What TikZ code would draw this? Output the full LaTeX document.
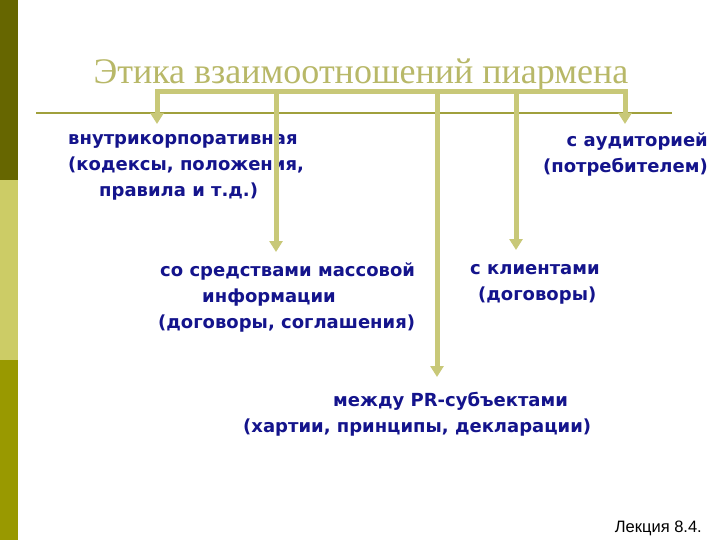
\documentclass[tikz,border=0pt]{standalone}
\usepackage{fontspec}
\setmainfont{Liberation Serif}
\newfontfamily\bodyfont{DejaVu Sans}
\newfontfamily\notefont{Liberation Sans}
\usetikzlibrary{arrows.meta}
\definecolor{barA}{RGB}{102,102,0}
\definecolor{barB}{RGB}{204,204,102}
\definecolor{barC}{RGB}{153,153,0}
\definecolor{titlecol}{RGB}{184,184,104}
\definecolor{legcol}{RGB}{200,200,120}
\definecolor{rulecol}{RGB}{160,160,60}
\definecolor{txtcol}{RGB}{20,20,140}
\tikzset{
  bodytext/.style={inner sep=0pt, text=txtcol, font=\bodyfont\bfseries\fontsize{18}{26}\selectfont},
  legarrow/.style={draw=legcol, line width=5pt, -{Triangle[width=13pt,length=11pt]}},
  bar/.style={draw=legcol, line width=5pt, line cap=rect}
}
\begin{document}
\begin{tikzpicture}[x=1pt,y=-1pt]
\useasboundingbox (0,0) rectangle (720,540);
\fill[white] (0,0) rectangle (720,540);
% left bar
\fill[barA] (0,0) rectangle (18,180);
\fill[barB] (0,180) rectangle (18,360);
\fill[barC] (0,360) rectangle (18,540);
% title
\node[inner sep=0pt, text=titlecol, font=\fontsize{36}{40}\selectfont, anchor=base] (title) at (361,84) {Этика взаимоотношений пиармена};
% rule
\coordinate (ruleL) at (36,113);
\coordinate (ruleR) at (672,113);
\draw[rulecol, line width=2pt] (ruleL) -- (ruleR);
% text blocks
\node[bodytext, align=left, anchor=west] (inner) at (68,167) {внутрикорпоративная\\(кодексы, положения,\\\hspace*{31pt}правила и т.д.)};
\node[bodytext, align=right, anchor=east] (aud) at (708,154) {с аудиторией\\(потребителем)};
\node[bodytext, align=left, anchor=west] (smi) at (158,297) {\hspace*{2pt}со средствами массовой\\\hspace*{44pt}информации\\(договоры, соглашения)};
\node[bodytext, align=left, anchor=west] (cli) at (470,284) {с клиентами\\\hspace*{8pt}(договоры)};
\node[bodytext, align=left, anchor=west] (pr) at (243,414) {\hspace*{90pt}между PR-субъектами\\(хартии, принципы, декларации)};
\node[inner sep=0pt, anchor=base east, font=\notefont\fontsize{16.5}{18}\selectfont] (lect) at (702,532) {Лекция 8.4.};
% bracket
\coordinate (b1) at (157,92);
\coordinate (b2) at (276,92);
\coordinate (b3) at (437,92);
\coordinate (b4) at (516,92);
\coordinate (b5) at (625,92);
\coordinate (t1) at (157,124);
\coordinate (t2) at (276,252);
\coordinate (t3) at (437,377);
\coordinate (t4) at (516,250);
\coordinate (t5) at (625,124);
\draw[bar] (b1) -- (b5);
\draw[legarrow] (b1) -- (t1);
\draw[legarrow] (b2) -- (t2);
\draw[legarrow] (b3) -- (t3);
\draw[legarrow] (b4) -- (t4);
\draw[legarrow] (b5) -- (t5);
\end{tikzpicture}
\end{document}
